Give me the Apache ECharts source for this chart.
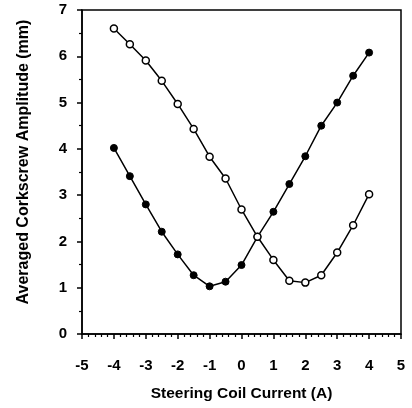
<!DOCTYPE html>
<html>
<head>
<meta charset="utf-8">
<script src="https://cdn.jsdelivr.net/npm/echarts@6/dist/echarts.min.js"></script>
<style>
html, body { margin: 0; padding: 0; background: #fff; }
#root { width: 412px; height: 408px; }
</style>
</head>
<body>
<div id="root"></div>
<script>
var current = [-4, -3.5, -3, -2.5, -2, -1.5, -1, -0.5, 0, 0.5, 1, 1.5, 2, 2.5, 3, 3.5, 4];
var filledAmp = [4.02, 3.41, 2.80, 2.21, 1.72, 1.27, 1.03, 1.13, 1.49, 2.10, 2.64, 3.24, 3.84, 4.50, 5.00, 5.58, 6.08];
var openAmp = [6.60, 6.26, 5.91, 5.47, 4.97, 4.43, 3.83, 3.36, 2.69, 2.10, 1.60, 1.15, 1.11, 1.27, 1.76, 2.35, 3.02];

var pairs = function (xs, ys) {
    return xs.map(function (x, i) { return [x, ys[i]]; });
};

var font = 'Liberation Sans, Arial, sans-serif';
var chart = echarts.init(document.getElementById('root'));
chart.setOption({
    animation: false,
    grid: {
        left: 82, right: 11, top: 10, bottom: 74,
        show: true, borderColor: '#000', borderWidth: 1.5
    },
    xAxis: {
        type: 'value', min: -5, max: 5, interval: 1,
        name: 'Steering Coil Current (A)',
        nameLocation: 'middle', nameGap: 52,
        nameTextStyle: { fontFamily: font, fontSize: 15.5, fontWeight: 'bold', color: '#000' },
        axisLine: { onZero: false, lineStyle: { color: '#000', width: 1.5 } },
        axisTick: { show: true, length: 5, lineStyle: { color: '#000', width: 1.5 } },
        minorTick: { show: true, splitNumber: 5, length: 3, lineStyle: { color: '#000', width: 1.2 } },
        splitLine: { show: false },
        axisLabel: { margin: 24, fontFamily: font, fontSize: 15, fontWeight: 'bold', color: '#000' }
    },
    yAxis: {
        type: 'value', min: 0, max: 7, interval: 1,
        name: 'Averaged Corkscrew Amplitude (mm)',
        nameLocation: 'middle', nameGap: 50,
        nameTextStyle: { fontFamily: font, fontSize: 16, fontWeight: 'bold', color: '#000', padding: [0, 0, 0, 20] },
        axisLine: { onZero: false, lineStyle: { color: '#000', width: 1.5 } },
        axisTick: { show: true, length: 5, lineStyle: { color: '#000', width: 1.5 } },
        minorTick: { show: true, splitNumber: 2, length: 3, lineStyle: { color: '#000', width: 1.2 } },
        splitLine: { show: false },
        axisLabel: { margin: 15, fontFamily: font, fontSize: 15, fontWeight: 'bold', color: '#000' }
    },
    series: [
        {
            name: 'filled', type: 'line', z: 2,
            data: pairs(current, filledAmp),
            symbol: 'circle', symbolSize: 7,
            lineStyle: { color: '#000', width: 1.5 },
            itemStyle: { color: '#000', borderColor: '#000', borderWidth: 1 }
        },
        {
            name: 'open', type: 'line', z: 3,
            data: pairs(current, openAmp),
            symbol: 'circle', symbolSize: 7,
            lineStyle: { color: '#000', width: 1.5 },
            itemStyle: { color: '#fff', borderColor: '#000', borderWidth: 1.5 }
        }
    ]
});
</script>
</body>
</html>
